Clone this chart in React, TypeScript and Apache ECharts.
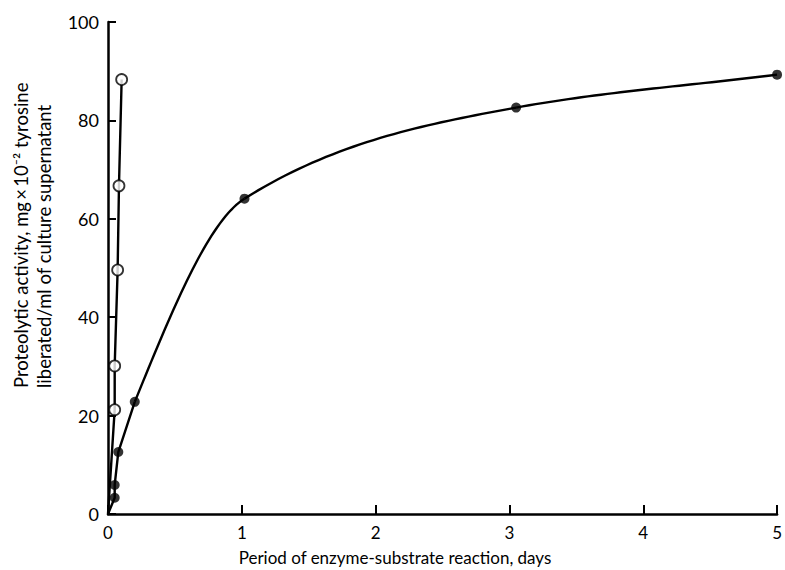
import React, { useEffect, useRef } from "react";
import * as echarts from "echarts";

// Tick values
const xTicks = [0, 1, 2, 3, 4, 5];
const yTicks = [0, 20, 40, 60, 80, 100];

// Closed circles (first point is the origin, drawn without a marker)
const closedDays = [0, 0.05, 0.05, 0.077, 0.2, 1.02, 3.05, 5.0];
const closedActivity = [0, 3.3, 5.9, 12.6, 22.8, 64.1, 82.6, 89.3];

// Open circles (first point is the origin, drawn without a marker)
const openDays = [0, 0.05, 0.05, 0.072, 0.082, 0.102];
const openActivity = [0, 21.2, 30.1, 49.6, 66.7, 88.3];

const xTitle = "Period of enzyme-substrate reaction, days";
const yTitle1 = "Proteolytic activity, mg\u2009\u00d7\u200910\u207b\u00b2 tyrosine";
const yTitle2 = "liberated/ml of culture supernatant";

const FONT = "Lato, 'Open Sans', 'DejaVu Sans', sans-serif";
const INK = "#000";

// Index where the closed-circle line turns from straight segments into a smooth curve
const CURVE_START = 4;

// Monotone (Fritsch–Butland) tangents for a smooth curve through the data
function tangents(xs: number[], ys: number[]): number[] {
  const n = xs.length;
  const h: number[] = [];
  const d: number[] = [];
  for (let i = 0; i < n - 1; i++) {
    h.push(xs[i + 1] - xs[i]);
    d.push((ys[i + 1] - ys[i]) / (xs[i + 1] - xs[i]));
  }
  const m: number[] = new Array(n).fill(0);
  for (let i = 1; i < n - 1; i++) {
    if (d[i - 1] * d[i] <= 0) {
      m[i] = 0;
    } else {
      const w1 = 2 * h[i] + h[i - 1];
      const w2 = h[i] + 2 * h[i - 1];
      m[i] = (w1 + w2) / (w1 / d[i - 1] + w2 / d[i]);
    }
  }
  m[0] = d[0];
  m[n - 1] = d[n - 2];
  return m;
}

export default function App() {
  const ref = useRef<HTMLDivElement>(null);

  useEffect(() => {
    if (!ref.current) return;
    const chart = echarts.init(ref.current, undefined, { renderer: "svg" });

    const closedPts = closedDays.map((d, i) => [d, closedActivity[i]]);
    const openPts = openDays.map((d, i) => [d, openActivity[i]]);

    // Curve: uses one point before CURVE_START for the starting tangent
    const cx = closedDays.slice(CURVE_START - 1);
    const cy = closedActivity.slice(CURVE_START - 1);
    const cm = tangents(cx, cy);
    const curvePts = closedPts.slice(CURVE_START);

    chart.setOption({
      animation: false,
      backgroundColor: "#fff",
      grid: { left: 108, right: 7, top: 22, bottom: 56, containLabel: false },
      xAxis: {
        type: "value",
        min: xTicks[0],
        max: xTicks[xTicks.length - 1],
        interval: xTicks[1] - xTicks[0],
        axisLine: { show: true, onZero: false, lineStyle: { color: INK, width: 2.5 } },
        axisTick: { show: true, inside: true, length: 9, lineStyle: { color: INK, width: 2 } },
        axisLabel: { color: INK, fontSize: 17, fontFamily: FONT, margin: 10 },
        splitLine: { show: false },
      },
      yAxis: {
        type: "value",
        min: yTicks[0],
        max: yTicks[yTicks.length - 1],
        interval: yTicks[1] - yTicks[0],
        axisLine: { show: true, onZero: false, lineStyle: { color: INK, width: 2.5 } },
        axisTick: { show: true, inside: true, length: 8, lineStyle: { color: INK, width: 2 } },
        axisLabel: { color: INK, fontSize: 18, fontFamily: FONT, margin: 9 },
        splitLine: { show: false },
      },
      graphic: [
        {
          type: "text",
          x: 395,
          y: 557,
          style: {
            text: xTitle,
            fill: INK,
            font: `17px ${FONT}`,
            textAlign: "center",
            textVerticalAlign: "middle",
          },
        },
        {
          type: "text",
          x: 21,
          y: 388,
          rotation: Math.PI / 2,
          style: {
            text: yTitle1,
            fill: INK,
            font: `18.5px ${FONT}`,
            textAlign: "left",
            textVerticalAlign: "middle",
          },
        },
        {
          type: "text",
          x: 44,
          y: 388,
          rotation: Math.PI / 2,
          style: {
            text: yTitle2,
            fill: INK,
            font: `18.5px ${FONT}`,
            textAlign: "left",
            textVerticalAlign: "middle",
          },
        },
      ],
      series: [
        {
          type: "line",
          data: closedPts.slice(0, CURVE_START + 1),
          showSymbol: false,
          smooth: false,
          lineStyle: { color: INK, width: 2.4 },
          z: 2,
        },
        {
          type: "custom",
          data: curvePts,
          encode: { x: 0, y: 1 },
          z: 2,
          renderItem: (params: any, api: any) => {
            const i = params.dataIndex + 1; // index within cx/cy/cm
            if (i >= cx.length - 1) return null;
            const x0 = cx[i], x1 = cx[i + 1];
            const y0 = cy[i], y1 = cy[i + 1];
            const hh = x1 - x0;
            const pts: number[][] = [];
            const N = 40;
            for (let k = 0; k <= N; k++) {
              const t = k / N;
              const t2 = t * t, t3 = t2 * t;
              const h00 = 2 * t3 - 3 * t2 + 1;
              const h10 = t3 - 2 * t2 + t;
              const h01 = -2 * t3 + 3 * t2;
              const h11 = t3 - t2;
              const x = x0 + t * hh;
              const y = h00 * y0 + h10 * hh * cm[i] + h01 * y1 + h11 * hh * cm[i + 1];
              pts.push(api.coord([x, y]));
            }
            return {
              type: "polyline",
              shape: { points: pts },
              style: { stroke: INK, lineWidth: 2.4, fill: "none" },
            };
          },
        },
        {
          type: "line",
          data: openPts,
          showSymbol: false,
          smooth: false,
          lineStyle: { color: INK, width: 2.4 },
          z: 2,
        },
        {
          type: "scatter",
          data: closedPts.slice(1),
          symbol: "circle",
          symbolSize: 10,
          itemStyle: { color: INK },
          z: 3,
        },
        {
          type: "scatter",
          data: openPts.slice(1),
          symbol: "circle",
          symbolSize: 11,
          itemStyle: { color: "#fff", borderColor: INK, borderWidth: 1.8 },
          z: 4,
        },
      ],
    });

    return () => chart.dispose();
  }, []);

  return (
    <div
      ref={ref}
      style={{ position: "fixed", left: 0, top: 0, width: 785, height: 570, background: "#fff" }}
    />
  );
}
